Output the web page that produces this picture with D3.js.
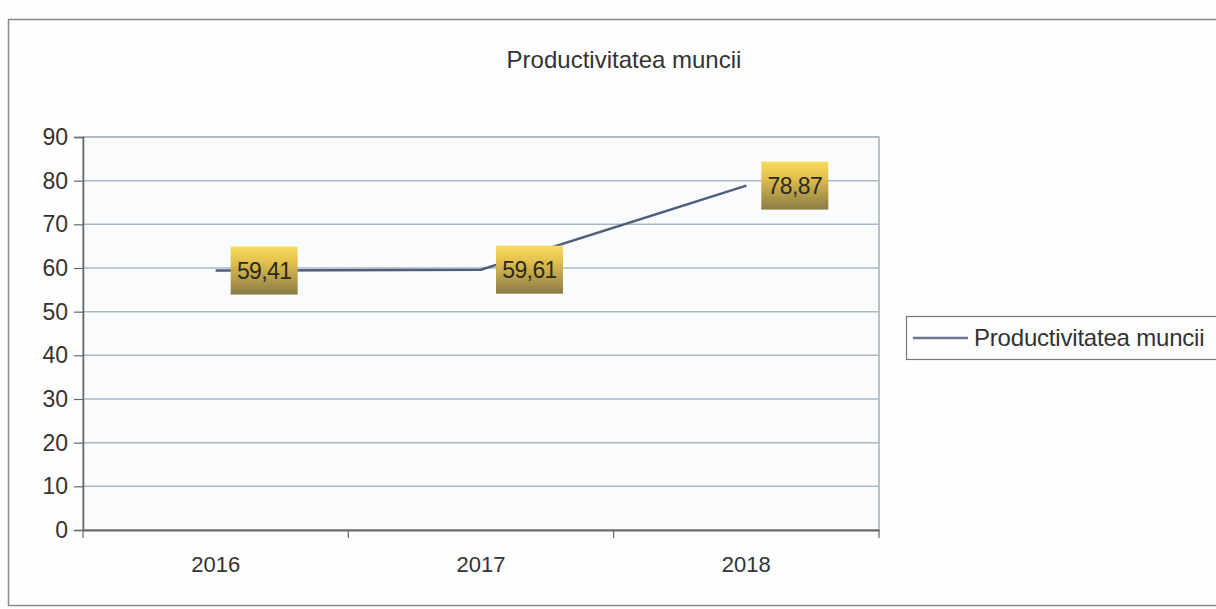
<!DOCTYPE html>
<html>
<head>
<meta charset="utf-8">
<script src="https://cdn.jsdelivr.net/npm/d3@7"></script>
<style>
  html, body { margin: 0; padding: 0; background: #fdfdfd; }
  svg { display: block; font-family: "Liberation Sans", Arial, sans-serif; }
</style>
</head>
<body>
<svg id="chart" width="1216" height="609"></svg>
<script>
const chartTitle = "Productivitatea muncii";
const seriesName = "Productivitatea muncii";
const categories = ["2016", "2017", "2018"];
const values = [59.41, 59.61, 78.87];
const valueLabels = ["59,41", "59,61", "78,87"];
const yTicks = [0, 10, 20, 30, 40, 50, 60, 70, 80, 90];

const svg = d3.select("#chart");

// gradient for data labels
const defs = svg.append("defs");
const grad = defs.append("linearGradient").attr("id", "lblGrad")
  .attr("x1", 0).attr("y1", 0).attr("x2", 0).attr("y2", 1);
grad.append("stop").attr("offset", "0%").attr("stop-color", "#f7dc5a");
grad.append("stop").attr("offset", "30%").attr("stop-color", "#e5c24e");
grad.append("stop").attr("offset", "100%").attr("stop-color", "#8a7c48");

// outer chart border
svg.append("rect").attr("x", 8.5).attr("y", 19.5).attr("width", 1230).attr("height", 586)
  .attr("fill", "#fefefe").attr("stroke", "#8a8a8a").attr("stroke-width", 1.5);

// title
svg.append("text").attr("x", 624).attr("y", 68).attr("text-anchor", "middle")
  .attr("font-size", 24).attr("fill", "#333").attr("letter-spacing", 0)
  .text(chartTitle);

const plot = { left: 83, right: 879, top: 137, bottom: 530 };

const x = d3.scaleBand().domain(categories).range([plot.left, plot.right]).padding(0);
const y = d3.scaleLinear().domain([0, 90]).range([plot.bottom, plot.top]);

// plot background
svg.append("rect").attr("x", plot.left).attr("y", plot.top)
  .attr("width", plot.right - plot.left).attr("height", plot.bottom - plot.top)
  .attr("fill", "#f9fbfd").attr("stroke", "#a8acb0").attr("stroke-width", 1.5);

// gridlines
svg.append("g").selectAll("line").data(yTicks.filter(d => d > 0)).join("line")
  .attr("x1", plot.left).attr("x2", plot.right)
  .attr("y1", d => y(d)).attr("y2", d => y(d))
  .attr("stroke", "#a9b8c8").attr("stroke-width", 1.5);

// y axis
const yAxis = svg.append("g").attr("transform", `translate(${plot.left},0)`)
  .call(d3.axisLeft(y).tickValues(yTicks).tickSize(9).tickPadding(6));
yAxis.select(".domain").attr("stroke", "#666").attr("stroke-width", 1.5);
yAxis.selectAll(".tick line").attr("stroke", "#666").attr("stroke-width", 1.2);
yAxis.selectAll("text").attr("font-size", 23).attr("fill", "#333")
  .attr("font-family", "Liberation Sans, Arial, sans-serif");

// x axis
const xAxis = svg.append("g").attr("transform", `translate(0,${plot.bottom})`)
  .call(d3.axisBottom(x).tickSize(0).tickPadding(26));
xAxis.select(".domain").attr("stroke", "#666").attr("stroke-width", 2);
xAxis.selectAll("text").attr("font-size", 22).attr("fill", "#333")
  .attr("font-family", "Liberation Sans, Arial, sans-serif");
// category separator ticks
svg.append("g").selectAll("line").data(categories.concat(["__end"])).join("line")
  .attr("x1", (d, i) => i < categories.length ? x(d) : plot.right)
  .attr("x2", (d, i) => i < categories.length ? x(d) : plot.right)
  .attr("y1", plot.bottom).attr("y2", plot.bottom + 8)
  .attr("stroke", "#666").attr("stroke-width", 1.2);

// line
const cx = d => x(d) + x.bandwidth() / 2;
const line = d3.line().x((d, i) => cx(categories[i])).y(d => y(d));
svg.append("path").datum(values).attr("d", line)
  .attr("fill", "none").attr("stroke", "#4e5f7c").attr("stroke-width", 2.5);

// data labels (right of points)
const lblW = 67, lblH = 48, lblGap = 15;
const lbls = svg.append("g").selectAll("g").data(values).join("g")
  .attr("transform", (d, i) => `translate(${cx(categories[i]) + lblGap},${y(d) - lblH / 2})`);
lbls.append("rect").attr("width", lblW).attr("height", lblH).attr("fill", "url(#lblGrad)");
lbls.append("text").attr("x", lblW / 2).attr("y", lblH / 2 + 8).attr("text-anchor", "middle")
  .attr("font-size", 23).attr("fill", "#2e2a1a").attr("letter-spacing", -0.6)
  .text((d, i) => valueLabels[i]);

// legend
const lg = svg.append("g").attr("transform", "translate(906,316)");
lg.append("rect").attr("x", 0.5).attr("y", 0.5).attr("width", 330).attr("height", 43)
  .attr("fill", "#fdfdfd").attr("stroke", "#777").attr("stroke-width", 1.2);
lg.append("line").attr("x1", 7).attr("x2", 62).attr("y1", 22).attr("y2", 22)
  .attr("stroke", "#6b7b94").attr("stroke-width", 2.5);
lg.append("text").attr("x", 68).attr("y", 30).attr("font-size", 24).attr("fill", "#333")
  .attr("letter-spacing", -0.2).text(seriesName);
</script>
</body>
</html>
